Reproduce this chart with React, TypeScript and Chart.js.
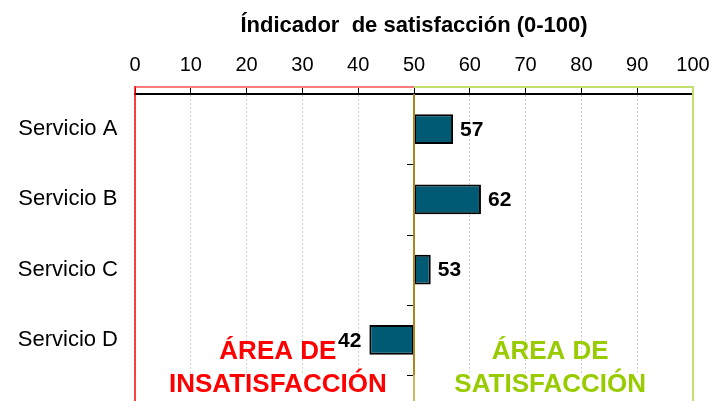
import React, { useEffect, useRef } from 'react';
import { Chart, registerables } from 'chart.js';

Chart.register(...registerables);

const categories = ['Servicio A', 'Servicio B', 'Servicio C', 'Servicio D'];
const values = [57, 62, 53, 42];
const threshold = 50;
const axisMin = 0;
const axisMax = 100;
const axisStep = 10;
const axisTitle = 'Índicador  de satisfacción (0-100)';
const lowAreaLines = ['ÁREA DE', 'INSATISFACCIÓN'];
const highAreaLines = ['ÁREA DE', 'SATISFACCIÓN'];
const lowAreaCenter = 25.6;
const highAreaCenter = 74.4;

const FONT = "'Liberation Sans', Arial, sans-serif";
const RED = '#ff0000';
const RED_LIGHT = '#ff7a7a';
const GREEN = '#99cc00';
const GREEN_LIGHT = '#c2e070';
const BROWN = '#ad861c';
const BROWN_LIGHT = '#d6b75e';
const BAR = '#005a74';

const overlayPlugin = {
  id: 'overlay',
  afterDatasetsDraw(chart: any) {
    const { ctx, chartArea, scales, height } = chart;
    const xs = scales.x;
    const ys = scales.y;
    const x0 = Math.round(xs.getPixelForValue(axisMin));
    const xm = Math.round(xs.getPixelForValue(threshold));
    const x1 = Math.round(xs.getPixelForValue(axisMax));
    const top = Math.round(chartArea.top) - 7;
    const bottom = height + 5;
    ctx.save();
    // red area box
    ctx.lineWidth = 2;
    ctx.strokeStyle = RED_LIGHT;
    ctx.beginPath();
    ctx.moveTo(x0, top);
    ctx.lineTo(xm, top);
    ctx.stroke();
    ctx.strokeStyle = RED;
    ctx.lineWidth = 1.5;
    ctx.beginPath();
    ctx.moveTo(x0, bottom);
    ctx.lineTo(x0, top - 1);
    ctx.stroke();
    // green area box
    ctx.lineWidth = 2;
    ctx.strokeStyle = GREEN_LIGHT;
    ctx.beginPath();
    ctx.moveTo(xm, top);
    ctx.lineTo(x1, top);
    ctx.lineTo(x1, bottom);
    ctx.stroke();
    // threshold axis
    ctx.lineWidth = 2;
    ctx.strokeStyle = BROWN_LIGHT;
    ctx.beginPath();
    ctx.moveTo(xm, chartArea.bottom);
    ctx.lineTo(xm, bottom);
    ctx.stroke();
    ctx.strokeStyle = BROWN;
    ctx.beginPath();
    ctx.moveTo(xm, top + 7);
    ctx.lineTo(xm, chartArea.bottom);
    ctx.stroke();
    // category boundary ticks
    ctx.strokeStyle = '#000';
    ctx.lineWidth = 1;
    const band = ys.getPixelForValue(1) - ys.getPixelForValue(0);
    for (let i = 0; i < categories.length; i++) {
      const yb = Math.round(ys.getPixelForValue(i) + band / 2) + 0.5;
      ctx.beginPath();
      ctx.moveTo(xm - 7, yb);
      ctx.lineTo(xm - 1, yb);
      ctx.stroke();
    }

    // value labels
    ctx.fillStyle = '#000';
    ctx.font = `bold 21px ${FONT}`;
    ctx.textBaseline = 'middle';
    values.forEach((v, i) => {
      const px = xs.getPixelForValue(v);
      const py = ys.getPixelForValue(i);
      if (v >= threshold) {
        ctx.textAlign = 'left';
        ctx.fillText(String(v), px + 7, py + 1);
      } else {
        ctx.textAlign = 'right';
        ctx.fillText(String(v), px - 8, py + 1);
      }
    });

    // area labels
    ctx.font = `bold 26px ${FONT}`;
    ctx.textAlign = 'center';
    ctx.textBaseline = 'alphabetic';
    const baseY = ys.getPixelForValue(categories.length - 1);
    ctx.fillStyle = RED;
    lowAreaLines.forEach((t, i) => {
      ctx.fillText(t, xs.getPixelForValue(lowAreaCenter), baseY + 19 + i * 33);
    });
    ctx.fillStyle = GREEN;
    highAreaLines.forEach((t, i) => {
      ctx.fillText(t, xs.getPixelForValue(highAreaCenter), baseY + 19 + i * 33);
    });
    ctx.restore();
  },
};

export default function App() {
  const ref = useRef<HTMLCanvasElement>(null);
  useEffect(() => {
    if (!ref.current) return;
    Chart.defaults.font.family = FONT;
    const chart = new Chart(ref.current, {
      type: 'bar',
      data: {
        labels: categories,
        datasets: [
          {
            data: values.map((v) => [threshold, v]) as any,
            backgroundColor: BAR,
            borderColor: '#000',
            borderWidth: 2,
            borderSkipped: false,
            barPercentage: 0.42,
            categoryPercentage: 1,
          },
        ],
      },
      options: {
        indexAxis: 'y',
        responsive: false,
        animation: false,
        layout: { padding: { left: 0, right: 17, top: 0, bottom: 26 } },
        plugins: { legend: { display: false }, tooltip: { enabled: false }, title: { display: false } },
        scales: {
          x: {
            position: 'top',
            min: axisMin,
            max: axisMax,
            ticks: { stepSize: axisStep, color: '#000', font: { size: 20 }, padding: 10 },
            grid: { color: '#d2d2d2', lineWidth: 1, tickColor: '#000', tickLength: 7, tickWidth: 1 },
            border: { color: '#000', width: 2, dash: [2, 2] },
            title: {
              display: true,
              text: axisTitle,
              color: '#000',
              font: { size: 22, weight: 'bold' },
              padding: { top: 13, bottom: 4 },
            },
            afterFit: (s: any) => {
              s.height = 94;
              s.paddingLeft = 0;
              s.paddingRight = 0;
            },
          },
          y: {
            type: 'category',
            grid: { display: false },
            border: { display: false },
            ticks: { color: '#000', font: { size: 22 }, crossAlign: 'center', padding: 9 },
            afterFit: (s: any) => {
              s.width = 135;
              s.paddingTop = 0;
              s.paddingBottom = 0;
            },
          },
        },
      } as any,
      plugins: [overlayPlugin],
    });
    return () => chart.destroy();
  }, []);
  return (
    <div style={{ position: 'fixed', left: 0, top: 0, width: 710, height: 401, overflow: 'hidden', background: '#fff' }}>
      <canvas ref={ref} width={710} height={401} style={{ display: 'block' }} />
    </div>
  );
}
